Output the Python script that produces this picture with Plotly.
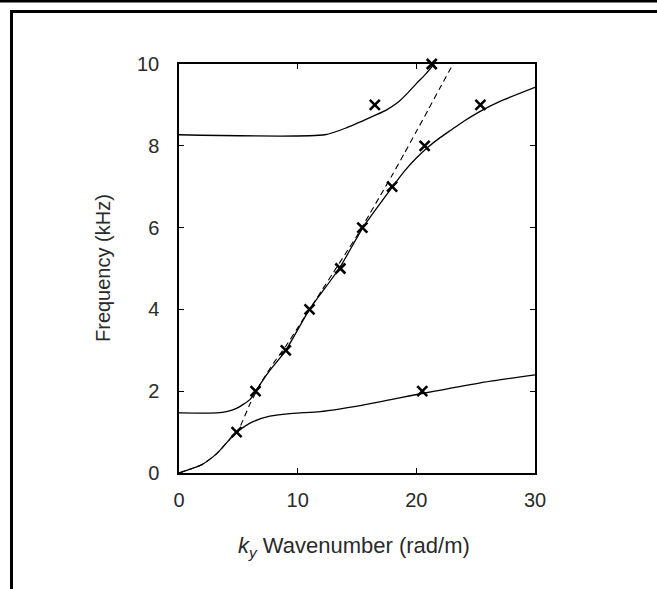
import plotly.graph_objects as go

# Lower branch (solid)
lower_x = [0, 1.0, 1.9, 3.2, 4.6, 5.0, 6.2, 7.65, 9.6, 11.9, 15.5, 20.6, 25.3, 30]
lower_y = [0, 0.1, 0.2, 0.48, 0.93, 1.03, 1.25, 1.39, 1.46, 1.5, 1.66, 1.95, 2.2, 2.4]

# Middle branch (solid)
mid_x = [0, 3.2, 4.0, 4.85, 6.0, 6.45, 7.5, 9.0, 11.0, 13.5, 15.5, 18.0, 19.0, 20.0, 21.0, 22.0, 23.0, 24.0, 25.3, 27.0, 30]
mid_y = [1.47, 1.47, 1.5, 1.58, 1.8, 2.0, 2.45, 3.0, 4.0, 5.0, 6.0, 7.0, 7.38, 7.7, 7.97, 8.2, 8.4, 8.6, 8.83, 9.08, 9.43]

# Upper branch (solid)
up_x = [0, 12.3, 14.2, 16.55, 17.5, 18.4, 19.2, 20.0, 20.8, 21.5]
up_y = [8.27, 8.27, 8.45, 8.75, 8.88, 9.05, 9.27, 9.52, 9.76, 10.0]

# Uncoupled mode (dashed)
dash_x = [0, 1.0, 1.9, 3.2, 4.6, 5.0, 6.0, 7.0, 8.0, 9.0, 10.0, 11.0, 12.0, 13.0, 14.0, 15.0, 16.0, 17.0, 18.0, 19.0, 20.0, 21.0, 22.0, 23.1]
dash_y = [0, 0.1, 0.2, 0.48, 0.93, 1.05, 1.7, 2.25, 2.7, 3.1, 3.55, 4.0, 4.45, 4.9, 5.35, 5.8, 6.3, 6.8, 7.3, 7.82, 8.35, 8.88, 9.42, 10.0]

# Measured points
meas_x = [4.85, 6.45, 9.0, 11.0, 13.6, 15.45, 17.96, 20.7, 25.4, 16.5, 21.3, 20.5]
meas_y = [1.0, 2.0, 3.0, 4.0, 5.0, 6.0, 7.0, 8.0, 9.0, 9.0, 10.0, 2.0]

x_ticks = [0, 10, 20, 30]
y_ticks = [0, 2, 4, 6, 8, 10]

fig = go.Figure()
line = dict(color="black", width=1.3)
fig.add_trace(go.Scatter(x=lower_x, y=lower_y, mode="lines", line=dict(line, shape="spline", smoothing=0.6)))
fig.add_trace(go.Scatter(x=mid_x, y=mid_y, mode="lines", line=dict(line, shape="spline", smoothing=0.6)))
fig.add_trace(go.Scatter(x=up_x, y=up_y, mode="lines", line=dict(line, shape="spline", smoothing=0.6)))
fig.add_trace(go.Scatter(x=dash_x, y=dash_y, mode="lines",
                         line=dict(color="black", width=1.1, dash="6px,4px", shape="spline", smoothing=0.6)))
fig.add_trace(go.Scatter(x=meas_x, y=meas_y, mode="markers", cliponaxis=False,
                         marker=dict(symbol="x-thin", size=10, line=dict(color="black", width=2.6))))

font = dict(family="Liberation Sans, Arial, sans-serif", size=20, color="#2a2a2a")
xfont = dict(font, size=22)
W, H = 657, 589
L, R, T, B = 179, 535, 64, 473
pw, ph = R - L, B - T

def px(xp):
    return (xp - L) / pw

def py(yp):
    return (B - yp) / ph

fig.update_layout(
    width=W, height=H,
    margin=dict(l=L, r=W - R, t=T, b=H - B),
    paper_bgcolor="white", plot_bgcolor="white",
    showlegend=False,
    font=font,
    xaxis=dict(range=[0, 30], tickvals=x_ticks, ticktext=[str(v) for v in x_ticks],
               showgrid=False, zeroline=False, showline=True, linecolor="black", linewidth=1.5,
               mirror="ticks", ticks="inside", ticklen=5, tickwidth=1.2, tickcolor="black",
               ticklabelstandoff=8, tickfont=font),
    yaxis=dict(range=[0, 10], tickvals=y_ticks, ticktext=[str(v) for v in y_ticks],
               showgrid=False, zeroline=False, showline=True, linecolor="black", linewidth=1.5,
               mirror="ticks", ticks="inside", ticklen=5, tickwidth=1.2, tickcolor="black",
               ticklabelstandoff=14, tickfont=font),
    shapes=[
        dict(type="line", xref="paper", yref="paper", x0=px(-5), x1=px(665), y0=py(1), y1=py(1),
             line=dict(color="black", width=3)),
        dict(type="line", xref="paper", yref="paper", x0=px(11.5), x1=px(665), y0=py(11.5), y1=py(11.5),
             line=dict(color="black", width=3)),
        dict(type="line", xref="paper", yref="paper", x0=px(11.5), x1=px(11.5), y0=py(10), y1=py(600),
             line=dict(color="black", width=3)),
    ],
    annotations=[
        dict(text="<i>k</i><sub><i>y</i></sub> Wavenumber (rad/m)", xref="paper", yref="paper",
             x=px(354), y=py(547), showarrow=False, font=xfont, xanchor="center", yanchor="middle"),
        dict(text="Frequency (kHz)", xref="paper", yref="paper", textangle=-90,
             x=px(103), y=py(268), showarrow=False, font=font, xanchor="center", yanchor="middle"),
    ],
)

fig.write_html("out.html")
